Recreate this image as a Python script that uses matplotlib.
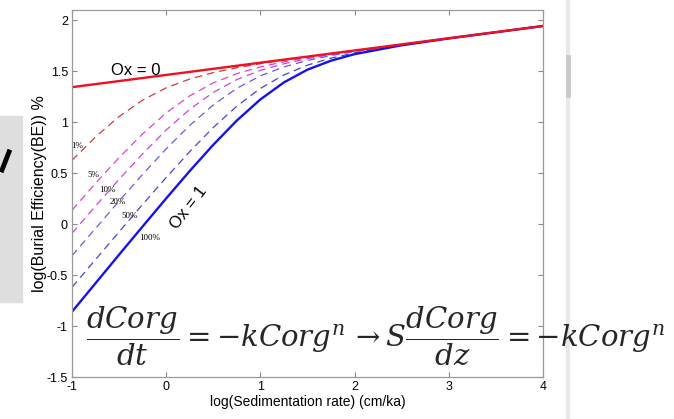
"""
Burial efficiency vs sedimentation rate (log-log), curves for oxygen exposure.
Redraw of a slide figure; saves out.png.
"""
import matplotlib
matplotlib.use("Agg")
import matplotlib.pyplot as plt
from matplotlib.lines import Line2D
from matplotlib.patches import Rectangle

# log(Sedimentation rate) sample points
log_s = [-1, -0.75, -0.5, -0.25, 0, 0.25, 0.5, 0.75, 1, 1.25, 1.5, 1.75, 2, 2.5, 3, 4]

# log(Burial efficiency)
ox_0 = [1.343, 1.373, 1.403, 1.433, 1.463, 1.493, 1.523, 1.553, 1.583, 1.613, 1.643, 1.673, 1.703, 1.763, 1.823, 1.943]
ox_1pct = [0.626, 0.855, 1.055, 1.216, 1.337, 1.423, 1.486, 1.534, 1.573, 1.608, 1.640, 1.671, 1.702, 1.762, 1.823, 1.943]
ox_5pct = [0.137, 0.400, 0.652, 0.885, 1.090, 1.258, 1.385, 1.476, 1.542, 1.592, 1.632, 1.667, 1.700, 1.762, 1.823, 1.943]
ox_10pct = [-0.09, 0.177, 0.439, 0.690, 0.923, 1.126, 1.292, 1.418, 1.508, 1.573, 1.622, 1.662, 1.698, 1.762, 1.823, 1.943]
ox_20pct = [-0.31, -0.042, 0.226, 0.488, 0.738, 0.968, 1.169, 1.332, 1.454, 1.542, 1.605, 1.653, 1.693, 1.760, 1.822, 1.943]
ox_50pct = [-0.62, -0.348, -0.076, 0.193, 0.457, 0.711, 0.948, 1.157, 1.331, 1.463, 1.559, 1.628, 1.679, 1.757, 1.821, 1.943]
ox_1 = [-0.86, -0.58, -0.30, -0.023, 0.252, 0.521, 0.778, 1.016, 1.223, 1.39, 1.515, 1.603, 1.667, 1.754, 1.821, 1.943]

dashed = [
    (ox_1pct, "#d23a3a"),
    (ox_5pct, "#e040d8"),
    (ox_10pct, "#cc44e0"),
    (ox_20pct, "#6a5ce0"),
    (ox_50pct, "#4646d6"),
]

pct_labels = ["1%", "5%", "10%", "20%", "50%", "100%"]
pct_pos = [(-0.947, 0.765), (-0.777, 0.48), (-0.628, 0.333), (-0.512, 0.216), (-0.384, 0.078), (-0.172, -0.137)]

plt.rcParams["font.family"] = ["Liberation Sans", "DejaVu Sans"]
plt.rcParams["mathtext.fontset"] = "dejavuserif"

W, H = 674, 419
fig = plt.figure(figsize=(W / 100, H / 100), dpi=100)
ax = fig.add_axes([72 / W, 1 - 377 / H, 471 / W, 367 / H])

for ys, col in dashed:
    ax.plot(log_s, ys, color=col, lw=0.9, ls=(0, (6, 4)))
ax.plot(log_s, ox_1, color="#1414e6", lw=1.7)
ax.plot(log_s, ox_0, color="#f01020", lw=1.7)

for lab, (x, y) in zip(pct_labels, pct_pos):
    ax.text(x, y, lab, fontsize=6.5, family="Liberation Serif", ha="center", va="center")

ax.text(-0.32, 1.51, "Ox = 0", fontsize=12, ha="center", va="center")
ax.text(0.242, 0.157, "Ox = 1", fontsize=12, ha="center", va="center", rotation=52)

ax.set_xlim(-1, 4)
ax.set_ylim(-1.5, 2.1)
ax.set_xticks([-1, 0, 1, 2, 3, 4])
ax.set_yticks([-1.5, -1, -0.5, 0, 0.5, 1, 1.5, 2])
ax.set_yticklabels(["-1.5", "-1", "-0.5", "0", "0.5", "1", "1.5", "2"])
ax.set_xticklabels(["-1", "0", "1", "2", "3", "4"])
ax.tick_params(direction="in", top=True, right=True, length=3.5, labelsize=9, color="#888888", pad=3)
for sp in ax.spines.values():
    sp.set_color("#999999")
    sp.set_linewidth(0.9)
ax.set_xlabel("log(Sedimentation rate) (cm/ka)", fontsize=10, labelpad=1)
ax.set_ylabel("log(Burial Efficiency(BE)) %", fontsize=11.5, labelpad=0)

# equation laid over the plot
fig.text(86 / W, 1 - 336 / H,
         r"$\dfrac{dCorg}{dt} = -kCorg^{n}\,\rightarrow S\dfrac{dCorg}{dz} = -kCorg^{n}$",
         fontsize=21, color="#262626", ha="left", va="center")

# slide clutter around the chart
fig.patches.append(Rectangle((0, 1 - 302 / H), 22 / W, 186 / H, transform=fig.transFigure,
                             color="#dedede", zorder=-1))
fig.lines.append(Line2D([9 / W, 2 / W], [1 - 152 / H, 1 - 170 / H], transform=fig.transFigure,
                        color="black", lw=3.5))
fig.lines.append(Line2D([568 / W, 568 / W], [0, 1], transform=fig.transFigure, color="#e8e8e8", lw=3))
fig.lines.append(Line2D([568 / W, 568 / W], [1 - 95 / H, 1 - 57 / H], transform=fig.transFigure,
                        color="#cacaca", lw=3.5))

fig.savefig("out.png", dpi=100)
